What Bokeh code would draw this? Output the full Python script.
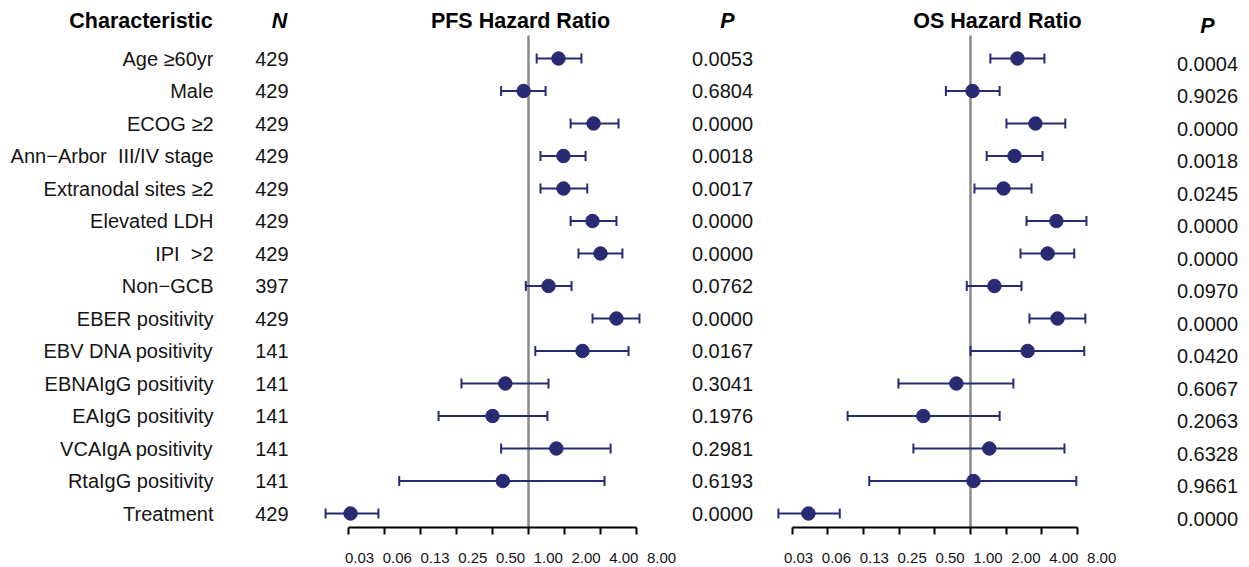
import numpy as np
from bokeh.plotting import figure
from bokeh.models import Range1d, FixedTicker, LogAxis, LogScale, LinearScale, ColumnDataSource
from bokeh.layouts import row
from bokeh.embed import file_html
from bokeh.resources import INLINE
from bokeh.core.properties import value

# ---------------- data ----------------
characteristics = [
    "Age \u226560yr", "Male", "ECOG \u22652", "Ann\u2212Arbor \u00a0III/IV stage",
    "Extranodal sites \u22652", "Elevated LDH", "IPI \u00a0>2", "Non\u2212GCB",
    "EBER positivity", "EBV DNA positivity", "EBNAIgG positivity",
    "EAIgG positivity", "VCAIgA positivity", "RtaIgG positivity", "Treatment",
]
n_values = ["429", "429", "429", "429", "429", "429", "429", "397",
            "429", "141", "141", "141", "141", "141", "429"]

pfs_hr = [1.78, 0.91, 3.50, 1.96, 1.96, 3.43, 4.00, 1.47, 5.44, 2.83, 0.64, 0.50, 1.71, 0.61, 0.0325]
pfs_lo = [1.17, 0.59, 2.25, 1.26, 1.26, 2.25, 2.62, 0.95, 3.43, 1.14, 0.275, 0.177, 0.59, 0.083, 0.0201]
pfs_hi = [2.77, 1.39, 5.66, 3.00, 3.10, 5.44, 6.10, 2.29, 8.47, 6.86, 1.47, 1.44, 4.86, 4.32, 0.0556]
pfs_p = ["0.0053", "0.6804", "0.0000", "0.0018", "0.0017", "0.0000", "0.0000", "0.0762",
         "0.0000", "0.0167", "0.3041", "0.1976", "0.2981", "0.6193", "0.0000"]

os_hr = [2.49, 1.04, 3.53, 2.35, 1.90, 5.30, 4.47, 1.59, 5.42, 3.03, 0.76, 0.40, 1.44, 1.06, 0.043]
os_lo = [1.47, 0.62, 2.01, 1.37, 1.08, 2.97, 2.64, 0.93, 3.14, 1.00, 0.247, 0.092, 0.33, 0.14, 0.024]
os_hi = [4.20, 1.76, 6.30, 4.05, 3.27, 9.50, 7.50, 2.69, 9.30, 9.10, 2.30, 1.76, 6.20, 7.80, 0.079]
os_p = ["0.0004", "0.9026", "0.0000", "0.0018", "0.0245", "0.0000", "0.0000", "0.0970",
        "0.0000", "0.0420", "0.6067", "0.2063", "0.6328", "0.9661", "0.0000"]

tick_values = [0.03125, 0.0625, 0.125, 0.25, 0.5, 1, 2, 4, 8]
tick_labels = ["0.03", "0.06", "0.13", "0.25", "0.50", "1.00", "2.00", "4.00", "8.00"]

# ---------------- styling ----------------
FONT = "Liberation Sans"
NAVY = "#282a72"
TXT = "#141414"
FRAME_H = 527
BOTTOM = 40
rows_y = list(range(len(characteristics)))
ROW_PX = 32.5
Y_TOP, Y_BOT = (0 - 58) / ROW_PX, (527 - 58) / ROW_PX
HEAD_Y = (20 - 58) / ROW_PX


def make_fig(x0, x1, log=False, main=None):
    kw = dict(frame_width=x1 - x0, frame_height=FRAME_H,
              y_range=Range1d(Y_BOT, Y_TOP),
              output_backend="svg", toolbar_location=None,
              min_border_left=0, min_border_right=0, min_border_top=0,
              min_border_bottom=BOTTOM,
              x_axis_location=None, y_axis_location=None)
    if log:
        kw["x_axis_type"] = "log"
        kw["x_range"] = Range1d(*main)
    else:
        kw["x_range"] = Range1d(x0, x1)
    p = figure(**kw)
    p.outline_line_color = None
    p.grid.visible = False
    p.background_fill_color = "white"
    p.border_fill_color = "white"
    p.extra_x_ranges = {"px": Range1d(x0, x1)}
    p.extra_x_scales = {"px": LinearScale()}
    return p


def head(p, x, txt, style="bold", dy_px=0, size="21.5px"):
    p.text(x=[x], y=[HEAD_Y], text=[txt], x_range_name="px", y_offset=dy_px,
           text_align="center", text_baseline="middle",
           text_font=value(FONT), text_font_style=style,
           text_font_size=size, text_color="black")


def col_text(p, x, texts, align, dy_px=0):
    p.text(x=[x] * len(texts), y=rows_y, text=texts, x_range_name="px",
           text_align=align, text_baseline="middle", y_offset=dy_px,
           text_font=value(FONT), text_font_size="20px", text_color=TXT)


def forest(p, hr, lo, hi, lab_range, head_x, title):
    src = ColumnDataSource(dict(y=rows_y, hr=hr, lo=lo, hi=hi))
    p.segment(x0=[1], y0=[(35 - 58) / ROW_PX], x1=[1], y1=[Y_BOT],
              line_color="#8a8a8a", line_width=2.5)
    p.segment(x0="lo", y0="y", x1="hi", y1="y", source=src, line_color=NAVY, line_width=2)
    p.scatter(x="lo", y="y", source=src, marker="dash", angle=np.pi / 2, size=10,
              line_color=NAVY, line_width=2)
    p.scatter(x="hi", y="y", source=src, marker="dash", angle=np.pi / 2, size=10,
              line_color=NAVY, line_width=2)
    p.scatter(x="hr", y="y", source=src, size=13.5, fill_color=NAVY, line_color=NAVY)
    head(p, head_x, title)

    # tick marks (drawn as minor ticks so that no label texts are produced)
    ax = LogAxis(ticker=FixedTicker(ticks=[], minor_ticks=tick_values),
                 bounds=(tick_values[0], tick_values[-1]),
                 axis_line_width=2, axis_line_color="black",
                 minor_tick_line_width=2, minor_tick_line_color="black",
                 minor_tick_out=7, minor_tick_in=0, major_tick_line_color=None,
                 major_label_standoff=0)
    p.add_layout(ax, "below")

    # tick labels on their own scale (as in the reference, they sit right of the marks)
    p.extra_x_ranges["lab"] = Range1d(*lab_range)
    p.extra_x_scales["lab"] = LogScale()
    lab = LogAxis(x_range_name="lab", ticker=FixedTicker(ticks=tick_values),
                  major_label_overrides=dict(zip(tick_values, tick_labels)),
                  axis_line_color=None, major_tick_line_color=None,
                  minor_tick_line_color=None, major_label_standoff=12,
                  major_label_text_font=FONT, major_label_text_font_size="15px",
                  major_label_text_color=TXT)
    p.add_layout(lab, "below")


def log_range(x0, x1, center_px, px_per_oct):
    return (2 ** ((x0 - center_px) / px_per_oct), 2 ** ((x1 - center_px) / px_per_oct))


# Left text panel
pA = make_fig(0, 300)
head(pA, 140.5, "Characteristic")
head(pA, 279, "N", style="bold italic")
col_text(pA, 213, characteristics, "right")
col_text(pA, 288, n_values, "right")

# PFS forest
pB = make_fig(300, 680, log=True, main=log_range(300, 680, 528, 36))
forest(pB, pfs_hr, pfs_lo, pfs_hi, log_range(300, 680, 547.75, 37.75), 520, "PFS Hazard Ratio")

# PFS P
pC = make_fig(680, 760)
head(pC, 727, "P", style="bold italic")
col_text(pC, 722, pfs_p, "center")

# OS forest
pD = make_fig(760, 1160, log=True, main=log_range(760, 1160, 970, 35.7))
forest(pD, os_hr, os_lo, os_hi, log_range(760, 1160, 987.5, 37.9), 997, "OS Hazard Ratio")

# OS P
pE = make_fig(1160, 1249)
head(pE, 1207, "P", style="bold italic", dy_px=5)
col_text(pE, 1207, os_p, "center", dy_px=5)

layout = row(pA, pB, pC, pD, pE, spacing=0)
open("out.html", "w").write(file_html(layout, INLINE))
